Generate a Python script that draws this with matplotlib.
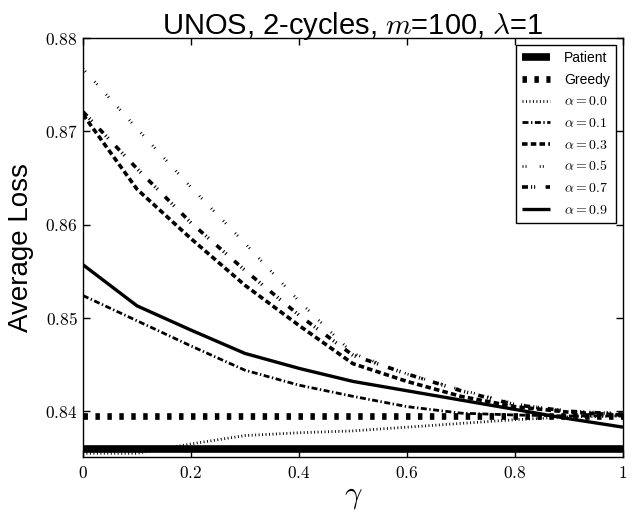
import matplotlib
matplotlib.use("Agg")
import matplotlib.pyplot as plt

plt.rcParams['font.family'] = ['Liberation Sans', 'DejaVu Sans']
plt.rcParams['mathtext.fontset'] = 'cm'
plt.rcParams['lines.scale_dashes'] = False

# ---- data ----
gammas = [0.0, 0.1, 0.2, 0.3, 0.4, 0.5, 0.6, 0.7, 0.8, 0.9, 1.0]
patient = [0.8360] * 11
greedy = [0.8395] * 11
alpha_00 = [0.8355, 0.8355, 0.8365, 0.8374, 0.8377, 0.8379, 0.8383, 0.8387, 0.8391, 0.8394, 0.8395]
alpha_01 = [0.8524, 0.8497, 0.8470, 0.8444, 0.8428, 0.8416, 0.8405, 0.8398, 0.8396, 0.8395, 0.8395]
alpha_03 = [0.8718, 0.8638, 0.8585, 0.8535, 0.8492, 0.8451, 0.8432, 0.8416, 0.8405, 0.8399, 0.8396]
alpha_05 = [0.8767, 0.8703, 0.8640, 0.8580, 0.8518, 0.8462, 0.8440, 0.8423, 0.8408, 0.8400, 0.8398]
alpha_07 = [0.8721, 0.8660, 0.8602, 0.8551, 0.8503, 0.8460, 0.8440, 0.8422, 0.8407, 0.8400, 0.8397]
alpha_09 = [0.8557, 0.8513, 0.8487, 0.8462, 0.8446, 0.8432, 0.8422, 0.8412, 0.8402, 0.8392, 0.8383]

series_labels = ['Patient', 'Greedy', r'$\alpha=0.0$', r'$\alpha=0.1$', r'$\alpha=0.3$',
                 r'$\alpha=0.5$', r'$\alpha=0.7$', r'$\alpha=0.9$']

xticks = [0, 0.2, 0.4, 0.6, 0.8, 1.0]
xticklabels = ['0', '0.2', '0.4', '0.6', '0.8', '1']
yticks = [0.84, 0.85, 0.86, 0.87, 0.88]
yticklabels = ['0.84', '0.85', '0.86', '0.87', '0.88']

title = r'UNOS, 2-cycles, $m$=100, $\lambda$=1'
xlabel = r'$\gamma$'
ylabel = 'Average Loss'

# ---- plot ----
fig = plt.figure(figsize=(6.36, 5.15), dpi=100)
ax = fig.add_axes([0.1305, 0.1126, 0.849, 0.8136])

series = [patient, greedy, alpha_00, alpha_01, alpha_03, alpha_05, alpha_07, alpha_09]
styles = [
    dict(lw=5.5, linestyle='-'),
    dict(lw=4.8, linestyle=(0, (3.2, 5.4))),
    dict(lw=2.0, linestyle=(0, (0.7, 1.8))),
    dict(lw=2.0, linestyle=(0, (4.3, 1.8, 1.0, 1.8))),
    dict(lw=2.6, linestyle=(0, (4.0, 2.3))),
    dict(lw=2.0, linestyle=(0, (0.7, 1.5, 0.7, 9.5))),
    dict(lw=2.6, linestyle=(0, (4.3, 2.2, 0.8, 1.4, 0.8, 7.5))),
    dict(lw=2.4, linestyle='-'),
]
for vals, lab, st in zip(series, series_labels, styles):
    ax.plot(gammas, vals, color='black', label=lab, dash_capstyle='butt',
            solid_capstyle='butt', **st)

ax.set_xlim(0, 1)
ax.set_ylim(0.8351, 0.88)
ax.set_xticks(xticks)
ax.set_xticklabels(['$%s$' % t for t in xticklabels])
ax.set_yticks(yticks)
ax.set_yticklabels(['$%s$' % t for t in yticklabels])
ax.tick_params(direction='in', top=True, right=True, length=5, width=1,
               labelsize=12.5, pad=4)
ax.tick_params(axis='x', pad=6)
for sp in ax.spines.values():
    sp.set_linewidth(1.0)

ax.set_title(title, fontsize=21, pad=3)
ax.set_xlabel(xlabel, fontsize=22, labelpad=0)
ax.set_ylabel(ylabel, fontsize=20, labelpad=8)

leg = ax.legend(loc='upper right', fontsize=10, handlelength=2.0,
                labelspacing=0.55, borderaxespad=0.5, borderpad=0.45,
                fancybox=False, framealpha=1, edgecolor='black',
                handletextpad=1.0)
leg.get_frame().set_linewidth(1.0)

fig.savefig('out.png', dpi=100)
